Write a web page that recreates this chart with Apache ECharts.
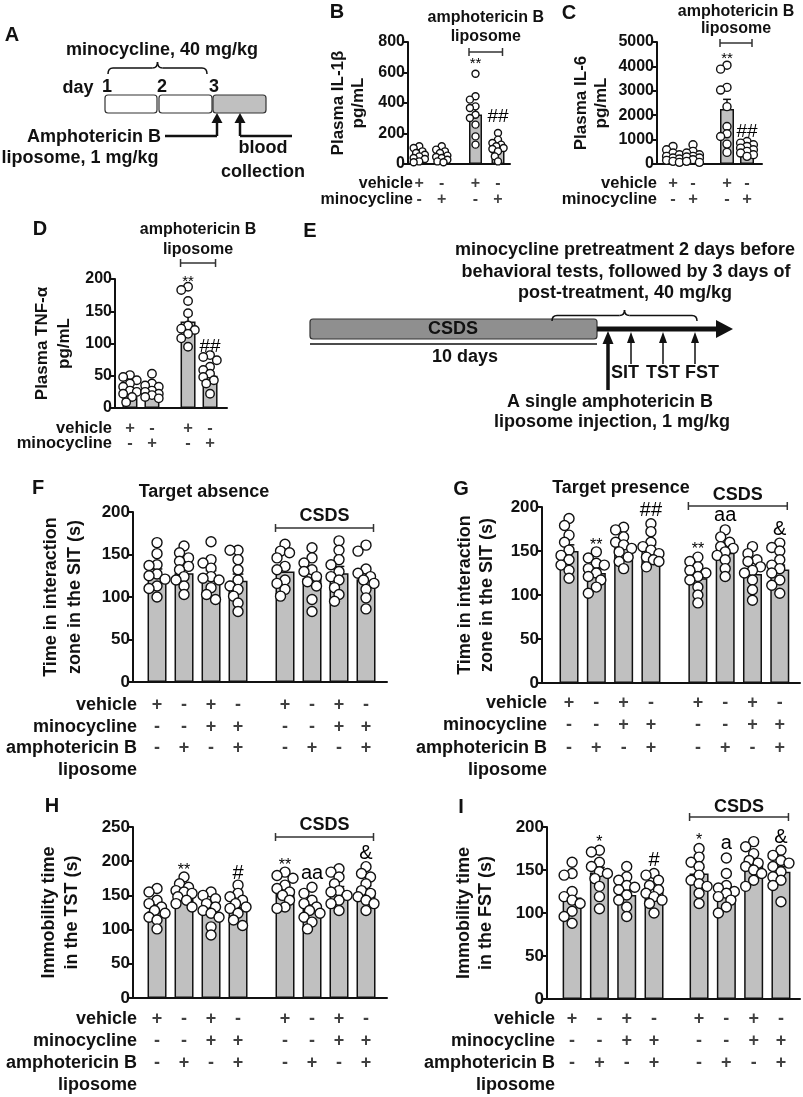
<!DOCTYPE html>
<html><head><meta charset="utf-8">
<script src="https://cdn.jsdelivr.net/npm/echarts@6/dist/echarts.min.js"></script>
<style>html,body{margin:0;padding:0;background:#fff}#c{width:803px;height:1097px}</style>
</head><body><div id="c"></div>
<script>
// ================= DATA =================
const bcVehicle = ['+', '-', '+', '-'];
const bcMinocycline = ['-', '+', '-', '+'];
const behVehicle = ['+', '-', '+', '-', '+', '-', '+', '-'];
const behMinocycline = ['-', '-', '+', '+', '-', '-', '+', '+'];
const behAmphotericin = ['-', '+', '-', '+', '-', '+', '-', '+'];

const il1bMean = [50, 45, 325, 110];
const il1bSem = [12, 11, 45, 18];
const il1bPoints = [
  [116, 105, 83, 72, 61, 50, 39, 33, 17, 11],
  [116, 94, 83, 72, 55, 46, 39, 28, 17, 11],
  [592, 444, 422, 378, 367, 323, 302, 258, 181, 127],
  [203, 160, 138, 127, 116, 105, 98, 83, 50, 17]];
const il1bSig = ['', '', '**', '##'];

const il6Mean = [350, 350, 2250, 700];
const il6Sem = [60, 60, 400, 80];
const il6Points = [
  [720, 584, 448, 380, 313, 245, 204, 150, 109, 68],
  [788, 516, 448, 380, 313, 285, 245, 177, 109, 68],
  [4050, 3887, 3139, 3030, 2351, 1536, 1237, 1128, 815, 476],
  [924, 856, 788, 720, 652, 584, 516, 448, 380, 313]];
const il6Sig = ['', '', '**', '##'];

const tnfMean = [27, 23, 134, 50];
const tnfSem = [4, 3, 10, 6];
const tnfPoints = [
  [51, 48, 43, 38, 33, 27, 25, 22, 17, 9],
  [53, 38, 35, 33, 27, 25, 22, 20, 17, 15],
  [188, 183, 166, 147, 128, 123, 121, 115, 108, 95],
  [82, 79, 74, 64, 59, 53, 48, 43, 38, 22]];
const tnfSig = ['', '', '**', '##'];

const absMean = [126, 128, 124, 119, 130, 122, 128, 121];
const absSem = [7, 6, 7, 8, 7, 7, 8, 7];
const absPoints = [
  [164, 151, 138, 137, 127, 125, 113, 110, 100, 121],
  [160, 152, 146, 142, 136, 132, 124, 120, 113, 103],
  [165, 144, 140, 134, 124, 122, 120, 111, 103, 97],
  [155, 155, 144, 132, 120, 113, 109, 101, 93, 83],
  [162, 154, 152, 146, 136, 132, 120, 116, 109, 101],
  [158, 146, 140, 132, 130, 124, 118, 113, 97, 83],
  [166, 155, 144, 138, 130, 124, 120, 111, 103, 95],
  [161, 154, 133, 128, 124, 120, 116, 109, 99, 86]];
const absSig = ['', '', '', '', '', '', '', ''];

const presMean = [150, 125, 154, 152, 119, 148, 124, 129];
const presSem = [7, 5, 5, 5, 6, 6, 6, 5];
const presPoints = [
  [187, 179, 168, 160, 151, 145, 140, 134, 128, 119],
  [149, 142, 136, 134, 130, 125, 121, 117, 109, 102],
  [177, 174, 166, 160, 157, 153, 149, 143, 138, 130],
  [181, 172, 160, 155, 151, 147, 143, 140, 138, 132],
  [143, 138, 132, 128, 125, 121, 117, 109, 100, 91],
  [174, 166, 160, 155, 153, 149, 145, 140, 130, 121],
  [155, 147, 140, 138, 132, 128, 125, 117, 106, 94],
  [159, 154, 150, 140, 134, 130, 125, 117, 111, 102]];
const presSig = ['', '**', '', '##', '**', 'aa', '', '&'];

const tstMean = [127, 152, 126, 133, 159, 132, 157, 157];
const tstSem = [6, 5, 6, 6, 6, 7, 6, 7];
const tstPoints = [
  [160, 155, 143, 138, 133, 128, 124, 118, 114, 101],
  [177, 167, 162, 157, 155, 153, 148, 143, 138, 133],
  [155, 150, 145, 138, 133, 128, 124, 118, 104, 92],
  [165, 153, 148, 143, 138, 133, 131, 124, 114, 106],
  [184, 179, 175, 165, 160, 155, 150, 143, 133, 131],
  [162, 153, 143, 138, 133, 128, 124, 118, 111, 101],
  [189, 184, 177, 167, 157, 155, 150, 143, 138, 128],
  [192, 182, 177, 167, 157, 153, 148, 143, 138, 128]];
const tstSig = ['', '**', '', '#', '**', 'aa', '', '&'];

const fstMean = [118, 147, 121, 124, 146, 125, 156, 148];
const fstSem = [7, 6, 5, 5, 7, 6, 5, 6];
const fstPoints = [
  [159, 146, 144, 125, 119, 115, 111, 102, 96, 88],
  [173, 171, 159, 154, 148, 146, 140, 131, 119, 105],
  [154, 142, 138, 132, 130, 127, 121, 115, 107, 96],
  [146, 144, 138, 132, 127, 123, 119, 115, 111, 100],
  [175, 165, 159, 154, 144, 138, 134, 131, 123, 111],
  [164, 146, 132, 129, 125, 123, 119, 115, 107, 100],
  [183, 177, 169, 161, 158, 154, 150, 146, 138, 131],
  [173, 167, 161, 158, 154, 148, 142, 138, 132, 113]];
const fstSig = ['', '*', '', '#', '*', 'a', '', '&'];

// ================= LAYOUT / STYLE =================
const FF = '"Liberation Sans", Arial, Helvetica, sans-serif';
const INK = '#111';
const BAR = '#c0c0c0';

const panels = [
  { letter: 'B', L: [337, 12], grid: { left: 408, top: 42, width: 102, height: 122 }, slot: 22.5, offset: 0.5, gap: 1.5, half: 2,
    yMax: 800, yInt: 200, bw: 13, dot: 7, fs: 16, rowFs: 16, yName: 'Plasma IL-1β\npg/mL', nameGap: 40, nameLH: 20,
    mean: il1bMean, sem: il1bSem, pts: il1bPoints, sig: il1bSig, annY: [0, 0, 690, 308],
    rows: [['vehicle', bcVehicle, 184], ['minocycline', bcMinocycline, 200]], rowRight: 413,
    bracket: { from: 2, to: 3, y: 52, text: ['amphotericin B', 'liposome'], textY: [18, 37] } },
  { letter: 'C', L: [569, 13], grid: { left: 657, top: 42, width: 105, height: 122 }, slot: 20, offset: 0.8, gap: 1.7, half: 2,
    yMax: 5000, yInt: 1000, bw: 14, dot: 8, fs: 16, rowFs: 16.5, yName: 'Plasma IL-6\npg/mL', nameGap: 46, nameLH: 20,
    mean: il6Mean, sem: il6Sem, pts: il6Points, sig: il6Sig, annY: [0, 0, 4500, 1311],
    rows: [['vehicle', bcVehicle, 183], ['minocycline', bcMinocycline, 199]], rowRight: 657,
    bracket: { from: 2, to: 3, y: 43, text: ['amphotericin B', 'liposome'], textY: [12, 29] } },
  { letter: 'D', L: [40, 229], grid: { left: 115, top: 279, width: 112, height: 129 }, slot: 22, offset: 0.68, gap: 1.64, half: 2,
    yMax: 200, yInt: 50, bw: 15, dot: 8.5, fs: 16, rowFs: 16.5, yName: 'Plasma TNF-α\npg/mL', nameGap: 40, nameLH: 22,
    mean: tnfMean, sem: tnfSem, pts: tnfPoints, sig: tnfSig, annY: [0, 0, 203, 95],
    rows: [['vehicle', bcVehicle, 428], ['minocycline', bcMinocycline, 443]], rowRight: 112,
    bracket: { from: 2, to: 3, y: 263, text: ['amphotericin B', 'liposome'], textY: [230, 250] } },
  { letter: 'F', L: [38, 488], title: ['Target absence', 204, 492], grid: { left: 133, top: 512, width: 254, height: 170 }, slot: 27, offset: 0.89, gap: 1.74, half: 4,
    yMax: 200, yInt: 50, bw: 19, dot: 10, fs: 17, rowFs: 18, yName: 'Time in interaction\nzone in the SIT (s)', nameGap: 46, nameLH: 24,
    mean: absMean, sem: absSem, pts: absPoints, sig: absSig, annY: [0, 0, 0, 0, 0, 0, 0, 0],
    rows: [['vehicle', behVehicle, 705], ['minocycline', behMinocycline, 727], ['amphotericin B', behAmphotericin, 748], ['liposome', null, 770]], rowRight: 137,
    bracket: { from: 4, to: 7, y: 528, text: ['CSDS'], textY: [516] } },
  { letter: 'G', L: [461, 489], title: ['Target presence', 621, 488], grid: { left: 542, top: 507, width: 258, height: 176 }, slot: 27.3, offset: 0.99, gap: 1.72, half: 4,
    yMax: 200, yInt: 50, bw: 19, dot: 10, fs: 17, rowFs: 18, yName: 'Time in interaction\nzone in the SIT (s)', nameGap: 44, nameLH: 22,
    mean: presMean, sem: presSem, pts: presPoints, sig: presSig, annY: [0, 162, 0, 196, 157, 190, 0, 175],
    rows: [['vehicle', behVehicle, 703], ['minocycline', behMinocycline, 725], ['amphotericin B', behAmphotericin, 748], ['liposome', null, 770]], rowRight: 547,
    bracket: { from: 4, to: 7, y: 506, text: ['CSDS'], textY: [495] } },
  { letter: 'H', L: [52, 806], grid: { left: 133, top: 827, width: 254, height: 171 }, slot: 27, offset: 0.89, gap: 1.74, half: 4,
    yMax: 250, yInt: 50, bw: 19, dot: 10, fs: 17, rowFs: 18, yName: 'Immobility time\nin the TST (s)', nameGap: 49, nameLH: 23,
    mean: tstMean, sem: tstSem, pts: tstPoints, sig: tstSig, annY: [0, 194, 0, 182, 201, 182, 0, 211],
    rows: [['vehicle', behVehicle, 1019], ['minocycline', behMinocycline, 1041], ['amphotericin B', behAmphotericin, 1063], ['liposome', null, 1085]], rowRight: 137,
    bracket: { from: 4, to: 7, y: 837, text: ['CSDS'], textY: [825] } },
  { letter: 'I', L: [461, 807], grid: { left: 547, top: 827, width: 253, height: 172 }, slot: 27.3, offset: 0.92, gap: 1.65, half: 4,
    yMax: 200, yInt: 50, bw: 19, dot: 10, fs: 17, rowFs: 18, yName: 'Immobility time\nin the FST (s)', nameGap: 50, nameLH: 22,
    mean: fstMean, sem: fstSem, pts: fstPoints, sig: fstSig, annY: [0, 188, 0, 161, 190, 181, 0, 188],
    rows: [['vehicle', behVehicle, 1019], ['minocycline', behMinocycline, 1041], ['amphotericin B', behAmphotericin, 1063], ['liposome', null, 1085]], rowRight: 555,
    bracket: { from: 4, to: 7, y: 817, text: ['CSDS'], textY: [807] } }
];

// ================= HELPERS =================
function positions(p) {
  return p.mean.map((_, i) => p.offset + i + (i >= p.half ? p.gap - 1 : 0));
}
function swarm(values, pos, pxPerX, pxPerY, size) {
  const order = values.map((v, i) => i).sort((a, b) => values[b] - values[a]);
  const placed = [];
  const out = new Array(values.length);
  const cands = [0, -0.45, 0.45, -0.8, 0.8, -0.25, 0.25, -0.62, 0.62];
  const lim = size * 0.78;
  for (const i of order) {
    const py = values[i] * pxPerY;
    let best = 0, bestOv = Infinity;
    for (const c of cands) {
      const px = c * size;
      let ov = 0;
      for (const q of placed) {
        const d = Math.hypot(px - q[0], py - q[1]);
        if (d < lim) ov += lim - d;
      }
      if (ov < bestOv - 1e-9) { bestOv = ov; best = px; if (ov === 0) break; }
    }
    placed.push([best, py]);
    out[i] = [pos + best / pxPerX, values[i]];
  }
  return out;
}
function txt(x, y, text, size, o) {
  o = o || {};
  return { type: 'text', x: x, y: y, silent: true, z: 50,
    style: { text: text, font: (o.weight || 'bold') + ' ' + size + 'px ' + FF, fill: o.color || INK,
      textAlign: o.align || 'center', textVerticalAlign: 'middle' } };
}
function ln(x1, y1, x2, y2, w, c) {
  return { type: 'line', silent: true, z: 50, shape: { x1, y1, x2, y2 }, style: { stroke: c || INK, lineWidth: w || 1.5 } };
}
function tri(points) {
  return { type: 'polygon', silent: true, z: 50, shape: { points }, style: { fill: INK } };
}
function bez(x1, y1, x2, y2, cx, cy) {
  return { type: 'bezierCurve', silent: true, z: 50, shape: { x1, y1, x2, y2, cpx1: cx, cpy1: cy }, style: { stroke: INK, lineWidth: 1.5, fill: 'none' } };
}
function brace(x1, x2, yTop, yBot) {
  const xm = (x1 + x2) / 2, ym = (yTop + yBot) / 2, r = 5;
  return [
    bez(x1, yBot, x1 + r, ym, x1, ym),
    ln(x1 + r, ym, xm - r, ym),
    bez(xm - r, ym, xm, yTop, xm, ym),
    bez(xm, yTop, xm + r, ym, xm, ym),
    ln(xm + r, ym, x2 - r, ym),
    bez(x2 - r, ym, x2, yBot, x2, ym)
  ];
}
function rrect(x, y, w, h, fill) {
  return { type: 'rect', silent: true, z: 40, shape: { x, y, width: w, height: h, r: 3 }, style: { fill: fill, stroke: '#333', lineWidth: 1.2 } };
}

// ================= OPTION =================
const grids = [], xAxes = [], yAxes = [], series = [];
panels.forEach((p, k) => {
  const xMax = p.grid.width / p.slot;
  const pos = positions(p);
  p.pos = pos;
  grids.push(Object.assign({ containLabel: false }, p.grid));
  xAxes.push({ type: 'value', gridIndex: k, min: 0, max: xMax,
    axisLine: { show: true, onZero: false, lineStyle: { color: INK, width: 2 } },
    axisTick: { show: false }, axisLabel: { show: false }, splitLine: { show: false } });
  yAxes.push({ type: 'value', gridIndex: k, min: 0, max: p.yMax, interval: p.yInt,
    axisLine: { show: true, lineStyle: { color: INK, width: 2 } },
    axisTick: { show: true, length: 5, lineStyle: { color: INK, width: 2 } },
    axisLabel: { fontSize: p.fs, fontWeight: 'bold', fontFamily: FF, color: INK, margin: 3, formatter: v => String(v) },
    splitLine: { show: false },
    name: p.yName, nameLocation: 'middle', nameRotate: 90, nameGap: p.nameGap,
    nameTextStyle: { fontSize: p.fs + 1, fontWeight: 'bold', fontFamily: FF, color: INK, lineHeight: p.nameLH } });

  series.push({ type: 'bar', xAxisIndex: k, yAxisIndex: k, barWidth: p.bw, silent: true, z: 2,
    data: p.mean.map((m, i) => [pos[i], m]),
    itemStyle: { color: BAR, borderColor: INK, borderWidth: 1.5 } });

  const cap = p.bw * 0.28;
  series.push({ type: 'custom', xAxisIndex: k, yAxisIndex: k, silent: true, z: 3, clip: false,
    data: p.mean.map((m, i) => [pos[i], m, p.sem[i]]),
    renderItem: function (params, api) {
      const x = api.value(0), m = api.value(1), s = api.value(2);
      const a = api.coord([x, m]), b = api.coord([x, m + s]);
      return { type: 'group', children: [
        { type: 'line', shape: { x1: a[0], y1: a[1], x2: b[0], y2: b[1] }, style: { stroke: INK, lineWidth: 1.5 } },
        { type: 'line', shape: { x1: b[0] - cap, y1: b[1], x2: b[0] + cap, y2: b[1] }, style: { stroke: INK, lineWidth: 1.5 } }
      ] };
    } });

  const pxPerX = p.grid.width / xMax, pxPerY = p.grid.height / p.yMax;
  let dots = [];
  p.pts.forEach((vals, i) => { dots = dots.concat(swarm(vals, pos[i], pxPerX, pxPerY, p.dot)); });
  series.push({ type: 'scatter', xAxisIndex: k, yAxisIndex: k, silent: true, z: 4, clip: false,
    symbol: 'circle', symbolSize: p.dot, data: dots,
    itemStyle: { color: '#fff', borderColor: INK, borderWidth: 1.4, opacity: 1 } });

  // +/- rows
  const axisBottom = p.grid.top + p.grid.height;
  p.rows.forEach(r => {
    if (!r[1]) return;
    const signs = r[1];
    series.push({ type: 'scatter', xAxisIndex: k, yAxisIndex: k, silent: true, z: 6, clip: false,
      symbolSize: 1, itemStyle: { color: 'rgba(0,0,0,0)' },
      data: signs.map((s, i) => ({ value: [pos[i], 0], name: s })),
      label: { show: true, position: 'inside', offset: [0, r[2] - axisBottom],
        formatter: q => q.name, fontSize: p.rowFs, fontWeight: 'bold', fontFamily: FF, color: INK } });
  });
});

const option = {
  animation: false,
  backgroundColor: '#fff',
  textStyle: { fontFamily: FF },
  grid: grids, xAxis: xAxes, yAxis: yAxes, series: series
};

const chart = echarts.init(document.getElementById('c'), null, { renderer: 'canvas' });
chart.setOption(option);

// ================= ANNOTATIONS / SCHEMATICS =================
const G = [];
// Panel A schematic
G.push(txt(12, 35, 'A', 20));
G.push(txt(162, 50, 'minocycline, 40 mg/kg', 18));
G.push(...brace(108, 207, 62, 74));
G.push(txt(78, 88, 'day', 18));
G.push(txt(107, 87, '1', 18), txt(162, 87, '2', 18), txt(214, 87, '3', 18));
G.push(rrect(105, 95, 52, 18, '#fff'), rrect(159, 95, 53, 18, '#fff'), rrect(213, 95, 53, 18, '#c0c0c0'));
G.push(ln(165, 136, 217, 136, 2.5), ln(217, 136, 217, 121, 2.5), tri([[217, 113], [211.5, 123], [222.5, 123]]));
G.push(ln(240, 136, 292, 136, 2.5), ln(240, 136, 240, 121, 2.5), tri([[240, 113], [234.5, 123], [245.5, 123]]));
G.push(txt(94, 137, 'Amphotericin B', 18), txt(80, 158, 'liposome, 1 mg/kg', 18));
G.push(txt(263, 148, 'blood', 18), txt(263, 172, 'collection', 18));

// Panel E schematic
G.push(txt(310, 231, 'E', 20));
G.push(txt(625, 250, 'minocycline pretreatment 2 days before', 18));
G.push(txt(626, 272, 'behavioral tests, followed by 3 days of', 18));
G.push(txt(625, 293, 'post-treatment, 40 mg/kg', 18));
G.push(...brace(552, 697, 310, 321));
G.push(rrect(310, 319, 287, 20, '#8f8f8f'));
G.push(txt(453, 329, 'CSDS', 18));
G.push(ln(597, 329, 720, 329, 5), tri([[733, 329], [716, 320], [716, 338]]));
G.push(ln(310, 344, 597, 344, 1.5));
G.push(txt(465, 357, '10 days', 18));
G.push(ln(608, 390, 608, 342, 3.5), tri([[608, 331], [602.5, 344], [613.5, 344]]));
[631, 663, 695].forEach(x => { G.push(ln(x, 364, x, 341, 1.5), tri([[x, 332], [x - 4, 343], [x + 4, 343]])); });
G.push(txt(625, 373, 'SIT', 18), txt(663, 373, 'TST', 18), txt(702, 373, 'FST', 18));
G.push(txt(610, 402, 'A single amphotericin B', 18), txt(612, 422, 'liposome injection, 1 mg/kg', 18));

// per-panel letters, titles, row labels, brackets, significance marks
panels.forEach((p, k) => {
  G.push(txt(p.L[0], p.L[1], p.letter, 20));
  if (p.title) G.push(txt(p.title[1], p.title[2], p.title[0], 18));
  p.rows.forEach(r => G.push(txt(p.rowRight, r[2], r[0], p.rowFs, { align: 'right' })));
  const b = p.bracket;
  const xa = chart.convertToPixel({ xAxisIndex: k }, p.pos[b.from]) - p.bw / 2;
  const xb = chart.convertToPixel({ xAxisIndex: k }, p.pos[b.to]) + p.bw / 2 - 2;
  G.push(ln(xa, b.y, xb, b.y, 1.5, '#333'), ln(xa, b.y - 4, xa, b.y + 4, 1.5, '#333'), ln(xb, b.y - 4, xb, b.y + 4, 1.5, '#333'));
  b.text.forEach((t, j) => G.push(txt((xa + xb) / 2, b.textY[j], t, p.letter <= 'D' ? 16 : 18)));
  p.sig.forEach((s, i) => {
    if (!s) return;
    const star = s.indexOf('*') >= 0;
    const pt = chart.convertToPixel({ gridIndex: k }, [p.pos[i], p.annY[i]]);
    G.push(txt(pt[0], pt[1] + (star ? 5 : 0), s, star ? p.fs - 1 : p.fs + 3, { weight: 'normal', color: '#000' }));
  });
});

chart.setOption({ graphic: { elements: G } });
</script>
</body></html>
